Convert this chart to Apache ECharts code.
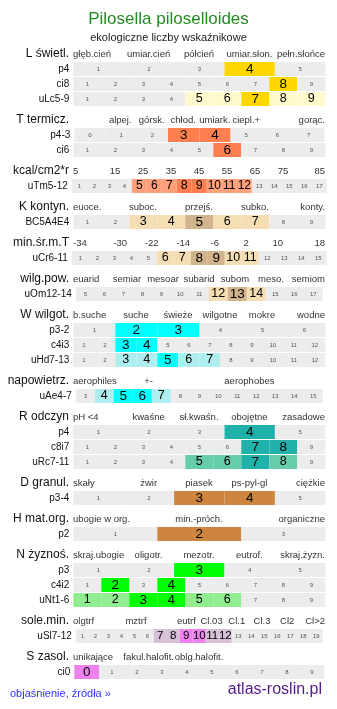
<!DOCTYPE html>
<html>
<head>
<meta charset="utf-8">
<script src="https://cdn.jsdelivr.net/npm/echarts@6/dist/echarts.min.js"></script>
<style>
html, body { margin: 0; padding: 0; background: #fff; }
#chart { width: 337px; height: 709px; }
</style>
</head>
<body>
<div id="chart"></div>
<script>
// group headings on the left and the captions over each group
const groupTitles = ['L świetl.', 'T termicz.', 'kcal/cm2*r', 'K kontyn.', 'min.śr.m.T', 'wilg.pow.',
  'W wilgot.', 'napowietrz.', 'R odczyn', 'D granul.', 'H mat.org.', 'N żyznoś.', 'sole.min.', 'S zasol.'];
const groupCaptions = [
  ['głęb.cień', 'umiar.cień', 'półcień', 'umiar.słon.', 'pełn.słońce'],
  ['', 'alpej.', 'górsk.', 'chłod.', 'umiark.', 'ciepl.+', '', 'gorąc.'],
  ['5', '15', '25', '35', '45', '55', '65', '75', '85'],
  ['euoce.', '', 'suboc.', '', 'przejś.', '', 'subko.', '', 'konty.'],
  ['-34', '-30', '-22', '-14', '-6', '2', '10', '18'],
  ['euarid', 'semiar', 'mesoar', 'subarid', 'subom', 'meso.', 'semiom'],
  ['b.suche', 'suche', 'świeże', 'wilgotne', 'mokre', 'wodne'],
  ['aerophiles', '+-', '', 'aerophobes', ''],
  ['pH <4', 'kwaśne', 'sł.kwaśn.', 'obojętne', 'zasadowe'],
  ['skały', 'żwir', 'piasek', 'ps-pyl-gl', 'ciężkie'],
  ['ubogie w org.', 'min.-próch.', 'organiczne'],
  ['skraj.ubogie', 'oligotr.', 'mezotr.', 'eutrof.', 'skraj.żyzn.'],
  ['olgtrf', '', 'mztrf', '', 'eutrf', 'Cl.03', 'Cl.1', 'Cl.3', 'Cl2', 'Cl>2'],
  ['unikające', 'fakul.halofit.', 'oblg.halofit.', '', '']
];
const groupRowCount = [3, 2, 1, 1, 1, 1, 3, 1, 3, 1, 1, 3, 1, 1];

// rows: name, cell labels, and level of each cell (0 none, 1 range, 2 value)
const rowNames = ['p4', 'ci8', 'uLc5-9', 'p4-3', 'ci6', 'uTm5-12', 'BC5A4E4', 'uCr6-11', 'uOm12-14',
  'p3-2', 'c4i3', 'uHd7-13', 'uAe4-7', 'p4', 'c8i7', 'uRc7-11', 'p3-4', 'p2', 'p3', 'c4i2', 'uNt1-6',
  'uSl7-12', 'ci0'];
const rowCells = [
  [1, 2, 3, 4, 5],
  [1, 2, 3, 4, 5, 6, 7, 8, 9],
  [1, 2, 3, 4, 5, 6, 7, 8, 9],
  [0, 1, 2, 3, 4, 5, 6, 7],
  [1, 2, 3, 4, 5, 6, 7, 8, 9],
  [1, 2, 3, 4, 5, 6, 7, 8, 9, 10, 11, 12, 13, 14, 15, 16, 17],
  [1, 2, 3, 4, 5, 6, 7, 8, 9],
  [1, 2, 3, 4, 5, 6, 7, 8, 9, 10, 11, 12, 13, 14, 15],
  [5, 6, 7, 8, 9, 10, 11, 12, 13, 14, 15, 16, 17],
  [1, 2, 3, 4, 5, 6],
  [1, 2, 3, 4, 5, 6, 7, 8, 9, 10, 11, 12],
  [1, 2, 3, 4, 5, 6, 7, 8, 9, 10, 11, 12],
  [3, 4, 5, 6, 7, 8, 9, 10, 11, 12, 13, 14, 15],
  [1, 2, 3, 4, 5],
  [1, 2, 3, 4, 5, 6, 7, 8, 9],
  [1, 2, 3, 4, 5, 6, 7, 8, 9],
  [1, 2, 3, 4, 5],
  [1, 2, 3],
  [1, 2, 3, 4, 5],
  [1, 2, 3, 4, 5, 6, 7, 8, 9],
  [1, 2, 3, 4, 5, 6, 7, 8, 9],
  [1, 2, 3, 4, 5, 6, 7, 8, 9, 10, 11, 12, 13, 14, 15, 16, 17, 18, 19],
  [0, 1, 2, 3, 4, 5, 6, 7, 8, 9]
];
const rowLevels = [
  [0, 0, 0, 2, 0],
  [0, 0, 0, 0, 0, 0, 0, 2, 0],
  [0, 0, 0, 0, 1, 1, 2, 1, 1],
  [0, 0, 0, 2, 2, 0, 0, 0],
  [0, 0, 0, 0, 0, 2, 0, 0, 0],
  [0, 0, 0, 0, 1, 1, 1, 2, 2, 1, 1, 1, 0, 0, 0, 0, 0],
  [0, 0, 1, 1, 2, 1, 1, 0, 0],
  [0, 0, 0, 0, 0, 1, 1, 2, 2, 1, 1, 0, 0, 0, 0],
  [0, 0, 0, 0, 0, 0, 0, 1, 2, 1, 0, 0, 0],
  [0, 2, 2, 0, 0, 0],
  [0, 0, 2, 2, 0, 0, 0, 0, 0, 0, 0, 0],
  [0, 0, 1, 1, 2, 1, 1, 0, 0, 0, 0, 0],
  [0, 1, 2, 2, 1, 0, 0, 0, 0, 0, 0, 0, 0],
  [0, 0, 0, 2, 0],
  [0, 0, 0, 0, 0, 0, 2, 2, 0],
  [0, 0, 0, 0, 1, 1, 2, 1, 0],
  [0, 0, 2, 2, 0],
  [0, 2, 0],
  [0, 0, 2, 0, 0],
  [0, 2, 0, 2, 0, 0, 0, 0, 0],
  [1, 1, 2, 2, 1, 1, 0, 0, 0],
  [0, 0, 0, 0, 0, 0, 1, 1, 2, 2, 1, 1, 0, 0, 0, 0, 0, 0, 0],
  [2, 0, 0, 0, 0, 0, 0, 0, 0, 0]
];

// styles
const FONT = '"Liberation Sans", Arial, sans-serif';
const GREY = '#ececec';
const groupColors = [
  ['#fffacd', '#ffd700'], ['#ffa07a', '#ff7f50'], ['#ffa07a', '#ff7f50'],
  ['#f5deb3', '#d2b48c'], ['#f5deb3', '#d2b48c'], ['#f5deb3', '#d2b48c'],
  ['#afeeee', '#00ffff'], ['#afeeee', '#00ffff'], ['#66cdaa', '#20b2aa'],
  ['#deb887', '#cd853f'], ['#deb887', '#cd853f'], ['#90ee90', '#00ff00'],
  ['#d8bfd8', '#ee82ee'], ['#d8bfd8', '#ee82ee']
];
const cellWidth = {3: 84, 5: 50.4, 6: 42, 8: 31.25, 9: 28, 10: 25, 12: 21, 13: 19, 15: 17, 17: 15, 19: 13};
const AREA_LEFT = 73, AREA_WIDTH = 252, MID = 199.3;

const grid = [], xAxis = [], yAxis = [], series = [];

function hiddenY(gi, name, fontSize) {
  return {
    type: 'value', gridIndex: gi, min: 0, max: 1,
    axisLine: {show: false}, axisTick: {show: false}, axisLabel: {show: false}, splitLine: {show: false},
    name: name, nameLocation: 'middle', nameRotate: 0, nameGap: 4,
    nameTextStyle: {align: 'right', verticalAlign: 'middle', fontSize: fontSize, color: '#111', fontFamily: FONT}
  };
}

let center = 54;
let row = 0;
groupTitles.forEach(function (title, g) {
  // caption line, first caption pushed to the left edge, last one to the right edge
  const caps = groupCaptions[g];
  const half = AREA_WIDTH / caps.length / 2;
  let gi = grid.push({left: AREA_LEFT, width: AREA_WIDTH, top: center - 7, height: 14,
    containLabel: false, outerBoundsMode: 'none'}) - 1;
  xAxis.push({
    type: 'category', gridIndex: gi,
    data: caps.map(function (c, i) {
      if (i === 0) {
        return {value: c, textStyle: {align: 'left', verticalAlign: 'middle', padding: [0, 0, 0, -half]}};
      }
      if (i === caps.length - 1) {
        return {value: c, textStyle: {align: 'right', verticalAlign: 'middle', padding: [0, -half, 0, 0]}};
      }
      return c;
    }),
    axisLine: {show: false}, axisTick: {show: false}, splitLine: {show: false},
    axisLabel: {interval: 0, margin: -7, verticalAlign: 'middle', fontSize: 9.5, color: '#333', fontFamily: FONT}
  });
  yAxis.push(hiddenY(gi, title, 12));

  let top = center + 8;
  for (let k = 0; k < groupRowCount[g]; k++, row++) {
    const cells = rowCells[row];
    const cw = cellWidth[cells.length];
    const w = cells.length * cw;
    gi = grid.push({left: MID - w / 2, width: w, top: top, height: 14,
      containLabel: false, outerBoundsMode: 'none'}) - 1;
    xAxis.push({
      type: 'category', gridIndex: gi, data: cells.map(String),
      axisLine: {show: false}, axisTick: {show: false}, axisLabel: {show: false}, splitLine: {show: false}
    });
    yAxis.push(hiddenY(gi, rowNames[row], 10));
    const bigFull = cw >= 17 ? 13.5 : cw >= 15 ? 12.5 : 11.5;
    const bigPart = cw >= 17 ? 12.5 : cw >= 15 ? 12 : 11.5;
    series.push({
      type: 'bar', xAxisIndex: gi, yAxisIndex: gi,
      barCategoryGap: '0%', barGap: '0%', silent: true,
      label: {show: true, position: 'inside', formatter: '{b}', fontFamily: FONT},
      data: rowLevels[row].map(function (lv) {
        return {
          value: 1,
          itemStyle: {color: lv ? groupColors[g][lv - 1] : GREY},
          label: {fontSize: lv === 2 ? bigFull : lv === 1 ? bigPart : 6, color: lv ? '#000' : '#555'}
        };
      })
    });
    top += 15;
  }
  center = top + 13;
});

const chart = echarts.init(document.getElementById('chart'));
chart.setOption({
  animation: false,
  title: [
    {text: 'Pilosella piloselloides', left: 'center', top: 11, padding: 0,
      textStyle: {color: '#228b22', fontSize: 17, fontWeight: 'normal', fontFamily: FONT}},
    {text: 'ekologiczne liczby wskaźnikowe', left: 'center', top: 32, padding: 0,
      textStyle: {color: '#222', fontSize: 11, fontWeight: 'normal', fontFamily: FONT}},
    {text: 'objaśnienie, źródła »', left: 10, top: 688, padding: 0,
      textStyle: {color: '#3333ff', fontSize: 11, fontWeight: 'normal', fontFamily: FONT}},
    {text: 'atlas-roslin.pl', right: 15, top: 682, padding: 0,
      textStyle: {color: '#551a8b', fontSize: 16, fontWeight: 'normal', fontFamily: FONT}}
  ],
  grid: grid,
  xAxis: xAxis,
  yAxis: yAxis,
  series: series
});
</script>
</body>
</html>
